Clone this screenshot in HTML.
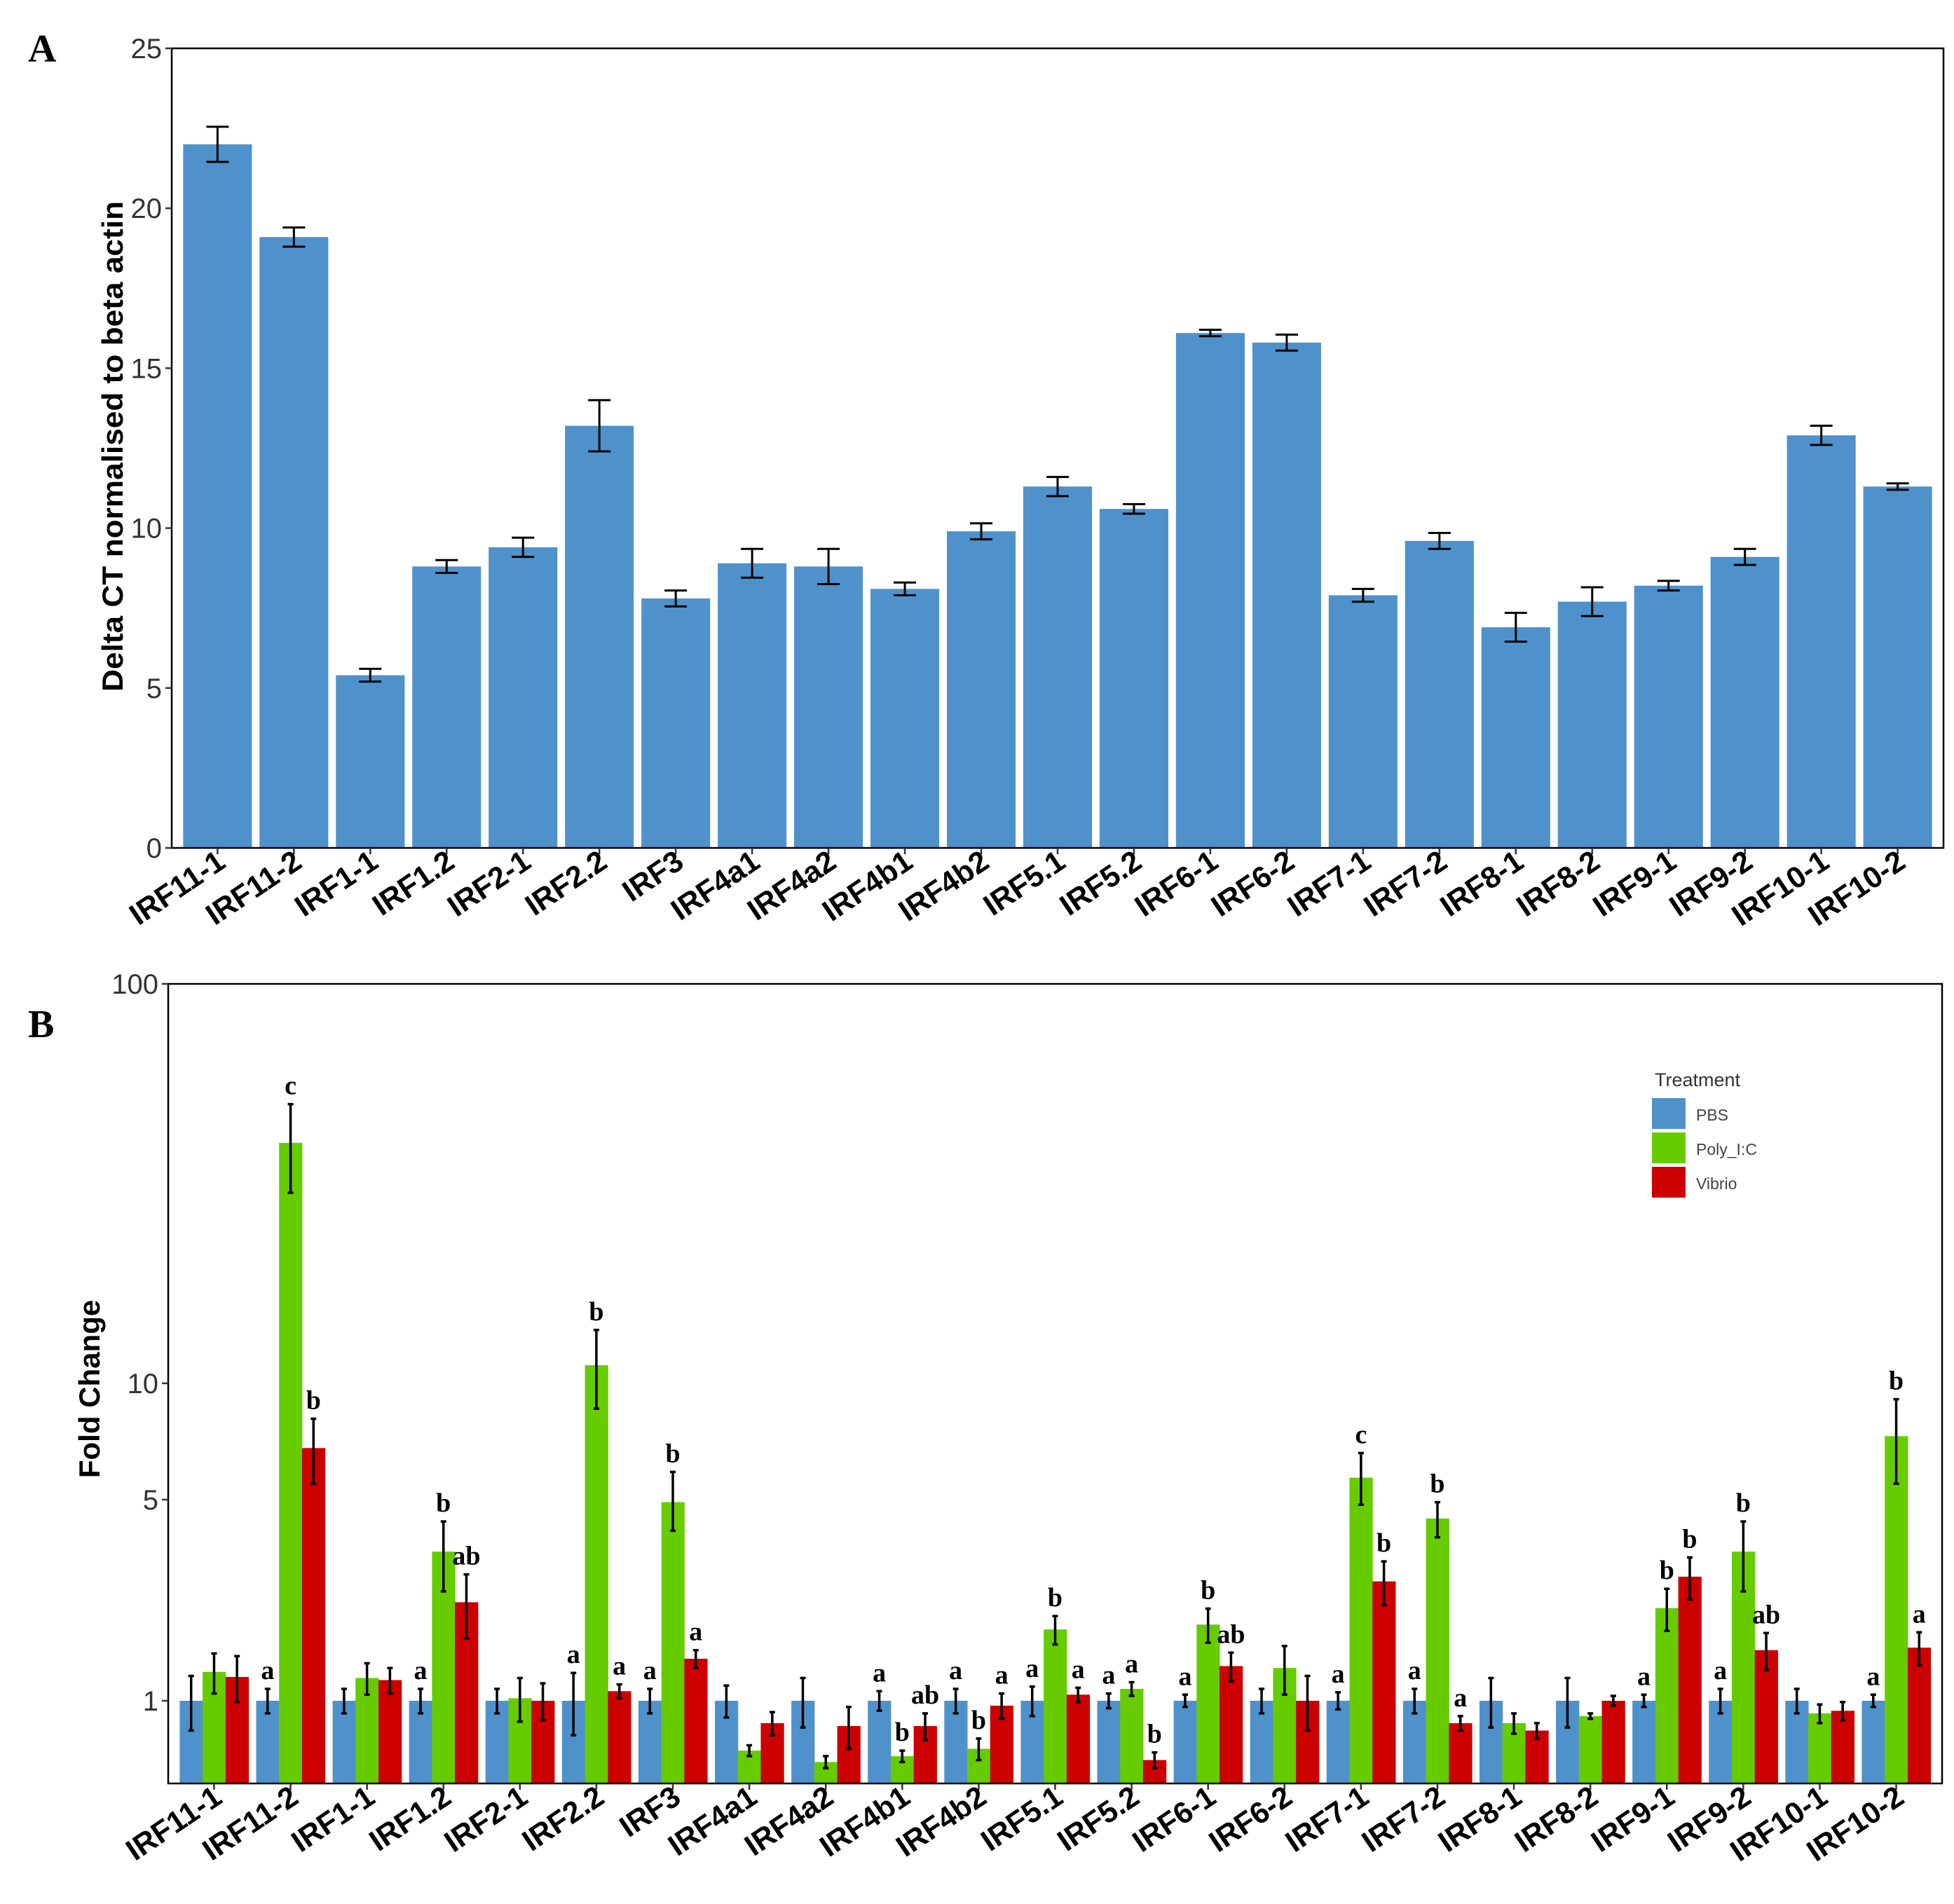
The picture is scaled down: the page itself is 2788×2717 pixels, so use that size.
<!DOCTYPE html>
<html><head><meta charset="utf-8"><style>
html,body{margin:0;padding:0;background:#fff;}
svg{display:block;}
</style></head><body>
<svg id="fig" width="2788" height="2717" viewBox="0 0 2788 2717" xmlns="http://www.w3.org/2000/svg" font-family="Liberation Sans, Arial, sans-serif">
<g id="pa"></g>
<g id="pb"></g>
</svg>
<script>
const genes = ["IRF11-1","IRF11-2","IRF1-1","IRF1.2","IRF2-1","IRF2.2","IRF3","IRF4a1","IRF4a2","IRF4b1","IRF4b2","IRF5.1","IRF5.2","IRF6-1","IRF6-2","IRF7-1","IRF7-2","IRF8-1","IRF8-2","IRF9-1","IRF9-2","IRF10-1","IRF10-2"];
const deltaCT = [22.0,19.1,5.4,8.8,9.4,13.2,7.8,8.9,8.8,8.1,9.9,11.3,10.6,16.1,15.8,7.9,9.6,6.9,7.7,8.2,9.1,12.9,11.3];
const deltaErr = [0.55,0.3,0.2,0.2,0.3,0.8,0.25,0.45,0.55,0.2,0.25,0.3,0.15,0.1,0.25,0.2,0.25,0.45,0.45,0.15,0.25,0.3,0.1];
const aTicks = [0,5,10,15,20,25];
const series = ["PBS","Poly_I:C","Vibrio"];
const pbsFC = [1,1,1,1,1,1,1,1,1,1,1,1,1,1,1,1,1,1,1,1,1,1,1];
const polyFC = [1.26,40,1.2,3.3,1.02,11.1,4.9,0.66,0.6,0.63,0.67,1.77,1.1,1.84,1.3,5.7,4.3,0.83,0.88,2.1,3.3,0.9,7.3];
const vibFC = [1.21,6.8,1.18,2.2,1.0,1.08,1.4,0.83,0.81,0.81,0.96,1.05,0.61,1.32,1.0,2.6,0.83,0.78,1.0,2.7,1.5,0.92,1.53];
const pbsErr = [0.22,0.1,0.1,0.1,0.1,0.25,0.1,0.13,0.2,0.08,0.1,0.12,0.06,0.05,0.1,0.07,0.1,0.2,0.2,0.05,0.1,0.1,0.05];
const polyErr = [0.2,10,0.15,0.9,0.18,2.5,1.0,0.03,0.03,0.03,0.06,0.2,0.06,0.25,0.25,0.9,0.6,0.07,0.02,0.35,0.9,0.07,1.8];
const vibErr = [0.22,1.3,0.12,0.55,0.15,0.06,0.1,0.08,0.14,0.09,0.1,0.06,0.04,0.15,0.22,0.45,0.05,0.05,0.04,0.45,0.22,0.07,0.2];
const pbsLet = ["","a","","a","","a","a","","","a","a","a","a","a","","a","a","","","a","a","","a"];
const polyLet = ["","c","","b","","b","b","","","b","b","b","a","b","","c","b","","","b","b","","b"];
const vibLet = ["","b","","ab","","a","a","","","ab","a","a","b","ab","","b","a","","","b","ab","","a"];
const bTicks = [1,5,10,100];

const NS="http://www.w3.org/2000/svg";
const SERIF="font-family:'Liberation Serif',serif;font-weight:bold;";
function mk(parent,tag,attrs,txt){const e=document.createElementNS(NS,tag);for(const k in attrs)e.setAttribute(k,attrs[k]);if(txt!==undefined)e.textContent=txt;parent.appendChild(e);return e;}
const n=genes.length;

// Panel A
const pa=document.getElementById('pa');
const aL=245,aR=2773,aT=69,aB=1210;
const aStep=(aR-aL)/(n+0.2);
const ax=i=>aL+(0.6+i)*aStep;
const ay=v=>aB-(v/25)*(aB-aT);
let t=mk(pa,'text',{x:40,y:88,style:SERIF+'font-size:56px',fill:'#000'},'A');

deltaCT.forEach((v,i)=>{
  const w=aStep*0.9;
  let r=mk(pa,'rect',{x:ax(i)-w/2,y:ay(v),width:w,height:aB-ay(v),fill:'#4f92cb'});
  
  const e=deltaErr[i],cx=ax(i);
  let g=mk(pa,'path',{d:`M${cx-16},${ay(v+e)}H${cx+16}M${cx},${ay(v+e)}V${ay(v-e)}M${cx-16},${ay(v-e)}H${cx+16}`,stroke:'#000','stroke-width':3,fill:'none'});
  
});
let fr=mk(pa,'rect',{x:aL,y:aT,width:aR-aL,height:aB-aT,fill:'none',stroke:'#000','stroke-width':2.5});

aTicks.forEach(v=>{
  mk(pa,'line',{x1:aL-9,x2:aL,y1:ay(v),y2:ay(v),stroke:'#333','stroke-width':2.5});
  let l=mk(pa,'text',{x:aL-14,y:ay(v)+14,'text-anchor':'end','font-size':40,fill:'#333'},String(v));
  
});
genes.forEach((gname,i)=>{
  mk(pa,'line',{x1:ax(i),x2:ax(i),y1:aB,y2:aB+9,stroke:'#333','stroke-width':2.5});
  let l=mk(pa,'text',{transform:`translate(${ax(i)+14},${aB+26}) rotate(-34)`,'text-anchor':'end','font-size':43,'font-weight':'bold',fill:'#000'},gname);
  
});
let yt=mk(pa,'text',{transform:`translate(175,637) rotate(-90)`,'text-anchor':'middle','font-size':42,'font-weight':'bold',fill:'#000',textLength:700,lengthAdjust:'spacingAndGlyphs'},'Delta CT normalised to beta actin');


// Panel B
const pb=document.getElementById('pb');
const bL=240,bR=2771,bT=1404,bB=2545,y1=2427;
const bStep=(bR-bL)/(n+0.2);
const bx=i=>bL+(0.6+i)*bStep;
const knotsL=[-1,0,0.699,1,2],knotsD=[-394,0,287,453,1023];
function by(v){const L=Math.log10(Math.max(v,0.05));let D;
  if(L<=0)D=L*394;else{let k=1;while(k<knotsL.length-1&&L>knotsL[k+1])k++;if(L>2){k=3;}
    const a=knotsL[k],b=knotsL[k+1];D=knotsD[k]+(L-a)/(b-a)*(knotsD[k+1]-knotsD[k]);}
  return Math.min(bB,y1-D);}
t=mk(pb,'text',{x:40,y:1480,style:SERIF+'font-size:56px',fill:'#000'},'B');

const cols=['#4f92cb','#66cc00','#cc0000'];
const vals=[pbsFC,polyFC,vibFC],errs=[pbsErr,polyErr,vibErr],lets=[pbsLet,polyLet,vibLet];
genes.forEach((gname,i)=>{
  const gw=bStep*0.9,bw=gw/3;
  for(let s=0;s<3;s++){
    const v=vals[s][i],x0=bx(i)-gw/2+s*bw,cx=x0+bw/2;
    let r=mk(pb,'rect',{x:x0,y:by(v),width:bw+0.5,height:bB-by(v),fill:cols[s]});
    
    const e=errs[s][i],top=by(v+e),bot=by(v-e);
    let g=mk(pb,'path',{d:`M${cx-4},${top}H${cx+4}M${cx},${top}V${bot}M${cx-4},${bot}H${cx+4}`,stroke:'#000','stroke-width':3.5,fill:'none'});
    
    if(lets[s][i]){
      let l=mk(pb,'text',{x:cx,y:top-14,'text-anchor':'middle',style:SERIF+'font-size:38px',fill:'#000'},lets[s][i]);
      
    }
  }
});
fr=mk(pb,'rect',{x:bL,y:bT,width:bR-bL,height:bB-bT,fill:'none',stroke:'#000','stroke-width':2.5});

bTicks.forEach(v=>{
  mk(pb,'line',{x1:bL-9,x2:bL,y1:by(v),y2:by(v),stroke:'#333','stroke-width':2.5});
  let l=mk(pb,'text',{x:bL-14,y:by(v)+14,'text-anchor':'end','font-size':40,fill:'#333'},String(v));
  
});
genes.forEach((gname,i)=>{
  mk(pb,'line',{x1:bx(i),x2:bx(i),y1:bB,y2:bB+9,stroke:'#333','stroke-width':2.5});
  let l=mk(pb,'text',{transform:`translate(${bx(i)+14},${bB+26}) rotate(-34)`,'text-anchor':'end','font-size':43,'font-weight':'bold',fill:'#000'},gname);
  
});
yt=mk(pb,'text',{transform:`translate(142,1982) rotate(-90)`,'text-anchor':'middle','font-size':42,'font-weight':'bold',fill:'#000'},'Fold Change');

// legend
const lg=mk(pb,'g',{});

let lt=mk(lg,'text',{x:2361,y:1550,'font-size':27,fill:'#333'},'Treatment');

series.forEach((s,k)=>{
  let r=mk(lg,'rect',{x:2357,y:1567+k*49,width:48,height:44,fill:cols[k]});
  
  let l=mk(lg,'text',{x:2420,y:1599+k*49,'font-size':23,fill:'#444'},s);
  
});
</script>
</body></html>
